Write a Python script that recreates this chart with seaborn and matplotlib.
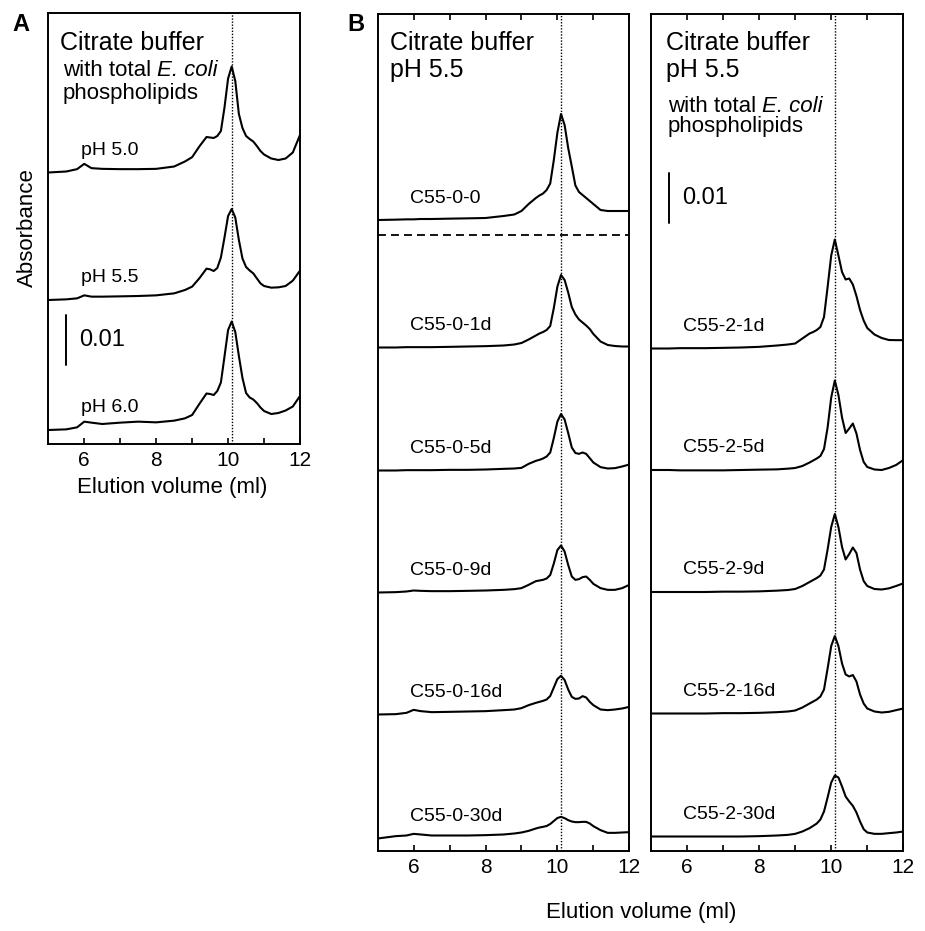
import numpy as np
import pandas as pd
import matplotlib
matplotlib.use("Agg")
import matplotlib.pyplot as plt
import seaborn as sns

sns.set_style("ticks")
plt.rcParams["font.family"] = ["Liberation Sans", "DejaVu Sans"]
plt.rcParams["text.color"] = "black"
plt.rcParams["axes.labelcolor"] = "black"
plt.rcParams["xtick.color"] = "black"
plt.rcParams["ytick.color"] = "black"
plt.rcParams["lines.solid_joinstyle"] = "round"
plt.rcParams["lines.solid_capstyle"] = "round"

# ---------------- data (absorbance in mAU above each trace's own baseline) -------------
elution_ml = [5.0, 5.5, 5.8, 6.0, 6.2, 6.5, 7.0, 7.5, 8.0, 8.5, 8.8, 9.0, 9.2, 9.4, 9.5,
              9.6, 9.7, 9.8, 9.9, 10.0, 10.1, 10.2, 10.3, 10.4, 10.5, 10.6, 10.7, 10.8,
              10.9, 11.0, 11.2, 11.4, 11.6, 11.8, 12.0]

# Panel A
labels_A = ["pH 5.0", "pH 5.5", "pH 6.0"]
offsets_A = [54.3, 28.8, 2.8]
ph_5_0 = [0, 0.2, 0.67, 1.73, 0.87, 0.73, 0.67, 0.67, 0.73, 1.2, 2.2, 3.07, 5.2, 7.1, 7.0,
          6.9, 7.3, 8.3, 13.0, 18.8, 21.2, 18.3, 11.7, 8.9, 7.3, 6.7, 6.2, 5.3,
          4.3, 3.6, 2.8, 2.5, 2.8, 4.0, 7.5]
ph_5_5 = [0, 0.13, 0.33, 0.93, 0.67, 0.67, 0.73, 0.8, 0.93, 1.33, 2.0, 2.67, 4.33, 6.27, 6.13,
          5.8, 6.4, 8.5, 12.5, 16.8, 18.2, 16.5, 12.0, 8.3, 6.6, 5.9, 5.33, 4.33,
          3.33, 2.8, 2.47, 2.53, 2.8, 3.87, 5.87]
ph_6_0 = [0, 0.13, 0.53, 1.67, 1.47, 1.2, 1.47, 1.67, 1.53, 1.87, 2.33, 3.0, 5.2, 7.3, 7.2,
          7.0, 7.8, 9.5, 14.7, 20.0, 21.7, 19.6, 14.8, 10.4, 7.4, 6.5, 6.1, 5.4,
          4.5, 3.8, 3.2, 3.4, 3.9, 4.7, 6.8]

# Panel B, left (no lipids)
labels_B1 = ["C55-0-0", "C55-0-1d", "C55-0-5d", "C55-0-9d", "C55-0-16d", "C55-0-30d"]
offsets_B1 = [126.2, 100.7, 76.1, 51.7, 27.3, 2.5]
c55_0_0 = [0, 0.07, 0.13, 0.13, 0.2, 0.2, 0.27, 0.33, 0.4, 0.8, 1.1, 1.8, 3.2, 4.4, 4.9,
           5.3, 6.0, 7.3, 12.0, 17.5, 21.2, 19.0, 14.4, 10.7, 6.9, 5.6, 5.0, 4.4,
           3.8, 3.2, 2.0, 1.8, 1.8, 1.8, 1.8]
c55_0_1d = [0, 0, 0.07, 0.07, 0.07, 0.07, 0.13, 0.2, 0.27, 0.4, 0.6, 0.9, 1.6, 2.4, 2.8,
            3.1, 3.5, 4.3, 7.9, 12.2, 14.5, 13.5, 11.0, 8.1, 6.6, 5.6, 5.0, 4.4,
            3.7, 2.7, 1.2, 0.5, 0.3, 0.2, 0.2]
c55_0_5d = [0, 0, 0.07, 0.07, 0.07, 0.07, 0.13, 0.13, 0.2, 0.33, 0.4, 0.53, 1.33, 1.93, 2.13,
            2.4, 2.8, 3.6, 6.5, 9.8, 11.3, 10.2, 7.5, 4.6, 3.5, 3.33, 3.6, 3.33,
            2.47, 1.6, 0.67, 0.4, 0.47, 0.8, 1.2]
c55_0_9d = [0, 0.07, 0.2, 0.4, 0.33, 0.27, 0.27, 0.33, 0.4, 0.53, 0.67, 0.87, 1.53, 2.27, 2.4,
            2.53, 2.8, 3.5, 5.8, 8.5, 9.4, 8.2, 5.5, 3.2, 2.53, 2.67, 3.07, 3.2,
            2.53, 1.73, 0.87, 0.53, 0.53, 0.87, 1.53]
c55_0_16d = [0, 0.07, 0.33, 0.93, 0.67, 0.47, 0.53, 0.6, 0.67, 0.87, 1.0, 1.27, 1.87, 2.33, 2.53,
             2.73, 3.0, 3.7, 5.4, 7.1, 7.73, 6.9, 5.0, 3.53, 3.13, 3.2, 3.67, 3.4,
             2.53, 1.87, 1.0, 0.87, 1.0, 1.2, 1.53]
c55_0_30d = [0, 0.47, 0.6, 0.93, 0.8, 0.6, 0.6, 0.6, 0.67, 0.8, 1.0, 1.2, 1.53, 2.0, 2.2,
             2.33, 2.5, 2.9, 3.5, 4.1, 4.33, 4.07, 3.67, 3.4, 3.27, 3.27, 3.33, 3.33,
             3.0, 2.47, 1.67, 1.13, 1.13, 1.2, 1.27]

# Panel B, right (with E. coli phospholipids)
labels_B2 = ["C55-2-1d", "C55-2-5d", "C55-2-9d", "C55-2-16d", "C55-2-30d"]
offsets_B2 = [100.5, 76.2, 51.8, 27.5, 2.9]
c55_2_1d = [0, 0, 0.07, 0.07, 0.07, 0.07, 0.13, 0.2, 0.33, 0.6, 0.8, 1.0, 2.0, 3.0, 3.3,
            3.7, 4.3, 6.3, 12.3, 18.6, 21.8, 18.6, 15.3, 13.8, 14.0, 12.8, 10.5, 7.7,
            5.6, 4.1, 2.8, 2.1, 1.7, 1.67, 1.67]
c55_2_5d = [0, 0, -0.07, -0.07, -0.07, -0.07, -0.07, 0, 0.07, 0.13, 0.27, 0.4, 0.8, 1.5, 1.9,
            2.3, 2.8, 4.2, 8.5, 14.5, 17.9, 15.0, 10.5, 7.4, 8.3, 9.3, 7.3, 4.0,
            1.6, 0.6, 0.1, 0.0, 0.4, 1.0, 2.0]
c55_2_9d = [0, 0, 0, 0, 0, 0, 0.07, 0.07, 0.13, 0.27, 0.4, 0.6, 1.2, 2.0, 2.4,
            2.8, 3.3, 4.5, 8.5, 13.0, 15.6, 13.0, 9.0, 6.5, 7.6, 8.9, 7.8, 4.5,
            2.2, 1.2, 0.6, 0.5, 0.73, 1.2, 1.73]
c55_2_16d = [0, 0, 0, 0, 0, 0, 0.07, 0.07, 0.13, 0.27, 0.4, 0.6, 1.2, 2.0, 2.4,
             2.8, 3.4, 4.8, 9.0, 13.5, 15.5, 13.5, 10.0, 7.8, 7.4, 7.7, 6.4, 3.8,
             2.0, 1.0, 0.4, 0.2, 0.33, 0.67, 1.0]
c55_2_30d = [0, 0, 0, 0, 0, 0, 0, 0, 0.07, 0.2, 0.33, 0.53, 1.0, 1.67, 2.13,
             2.6, 3.4, 5.0, 7.8, 10.8, 12.2, 11.8, 10.0, 8.0, 7.0, 6.13, 4.8, 3.0,
             1.47, 0.8, 0.53, 0.53, 0.67, 0.8, 1.0]

xticks = [6, 7, 8, 9, 10, 11, 12]
xticklabels = ["6", "", "8", "", "10", "", "12"]
peak_ref_ml = 10.1
scale_bar_mau = 10.0  # 0.01 absorbance

traces_A = [ph_5_0, ph_5_5, ph_6_0]
traces_B1 = [c55_0_0, c55_0_1d, c55_0_5d, c55_0_9d, c55_0_16d, c55_0_30d]
traces_B2 = [c55_2_1d, c55_2_5d, c55_2_9d, c55_2_16d, c55_2_30d]

# ---------------- figure ----------------
W, H = 925, 931
fig = plt.figure(figsize=(W / 100, H / 100), dpi=100)


def px_axes(l, r, t, b):
    return fig.add_axes([l / W, 1 - b / H, (r - l) / W, (b - t) / H])


axA = px_axes(48.3, 300, 13.3, 444)
axB1 = px_axes(377.7, 629.3, 14, 851)
axB2 = px_axes(651, 903.3, 14, 851)
ylim_A = (444 - 13.3) / 5
ylim_B = (851 - 14) / 5


def draw(ax, traces, offsets, labels, ymax, top_ticks):
    for vals, off, lab in zip(traces, offsets, labels):
        df = pd.DataFrame({"ml": elution_ml, "A": np.asarray(vals) + off})
        sns.lineplot(data=df, x="ml", y="A", ax=ax, color="black", lw=1.5,
                     estimator=None, sort=False)
        ax.text(5.9, off + 3.5, lab, fontsize=14, ha="left", va="baseline")
    ax.axvline(peak_ref_ml, color="black", lw=1.0, ls=(0, (1, 1.2)))
    ax.set_xlim(5, 12)
    ax.set_ylim(0, ymax)
    ax.set_yticks([])
    ax.set_xticks(xticks)
    ax.set_xticklabels(xticklabels)
    ax.set_xlabel("")
    ax.set_ylabel("")
    ax.tick_params(axis="x", direction="in", length=4.5, width=1.2, labelsize=15,
                   pad=5, top=top_ticks, bottom=True, colors="black")
    for s in ax.spines.values():
        s.set_linewidth(1.4)
        s.set_color("black")


draw(axA, traces_A, offsets_A, labels_A, ylim_A, False)
draw(axB1, traces_B1, offsets_B1, labels_B1, ylim_B, True)
draw(axB2, traces_B2, offsets_B2, labels_B2, ylim_B, True)

# dashed separator in B left
axB1.axhline((851 - 235) / 5, color="black", lw=1.3, ls=(0, (4.4, 2.8)))


def with_ecoli(ax, x, y):
    t1 = ax.text(x, y, "with total", fontsize=16, va="baseline")
    ax.annotate("E. coli", xy=(1, 0), xycoords=t1, xytext=(4.4, 0),
                textcoords="offset points", fontsize=16, style="italic",
                ha="left", va="bottom")


# Panel A titles
axA.text(5.325, 78.9, "Citrate buffer", fontsize=18, va="baseline")
with_ecoli(axA, 5.41, 73.6)
axA.text(5.41, 68.9, "phospholipids", fontsize=16, va="baseline")
# scale bar A
axA.plot([5.5, 5.5], [15.8, 15.8 + scale_bar_mau], color="black", lw=1.4)
axA.text(5.85, 20.8, "0.01", fontsize=17, va="center")

# Panel B titles
axB1.text(5.34, 160.3, "Citrate buffer", fontsize=18, va="baseline")
axB1.text(5.34, 154.9, "pH 5.5", fontsize=18, va="baseline")
axB2.text(5.42, 160.3, "Citrate buffer", fontsize=18, va="baseline")
axB2.text(5.42, 154.9, "pH 5.5", fontsize=18, va="baseline")
with_ecoli(axB2, 5.47, 147.9)
axB2.text(5.47, 143.9, "phospholipids", fontsize=16, va="baseline")
axB2.plot([5.5, 5.5], [125.6, 125.6 + scale_bar_mau], color="black", lw=1.4)
axB2.text(5.86, 130.6, "0.01", fontsize=17, va="center")

# axis labels
fig.text(27 / W, 1 - 228 / H, "Absorbance", rotation=90, fontsize=16,
         ha="center", va="center")
fig.text(172 / W, 1 - 493 / H, "Elution volume (ml)", fontsize=16, ha="center",
         va="baseline")
fig.text(641 / W, 1 - 918 / H, "Elution volume (ml)", fontsize=16, ha="center",
         va="baseline")

# panel letters
fig.text(12 / W, 1 - 31 / H, "A", fontsize=17, fontweight="bold", va="baseline")
fig.text(347 / W, 1 - 31 / H, "B", fontsize=17, fontweight="bold", va="baseline")

fig.savefig("out.png", dpi=100, facecolor="white")
